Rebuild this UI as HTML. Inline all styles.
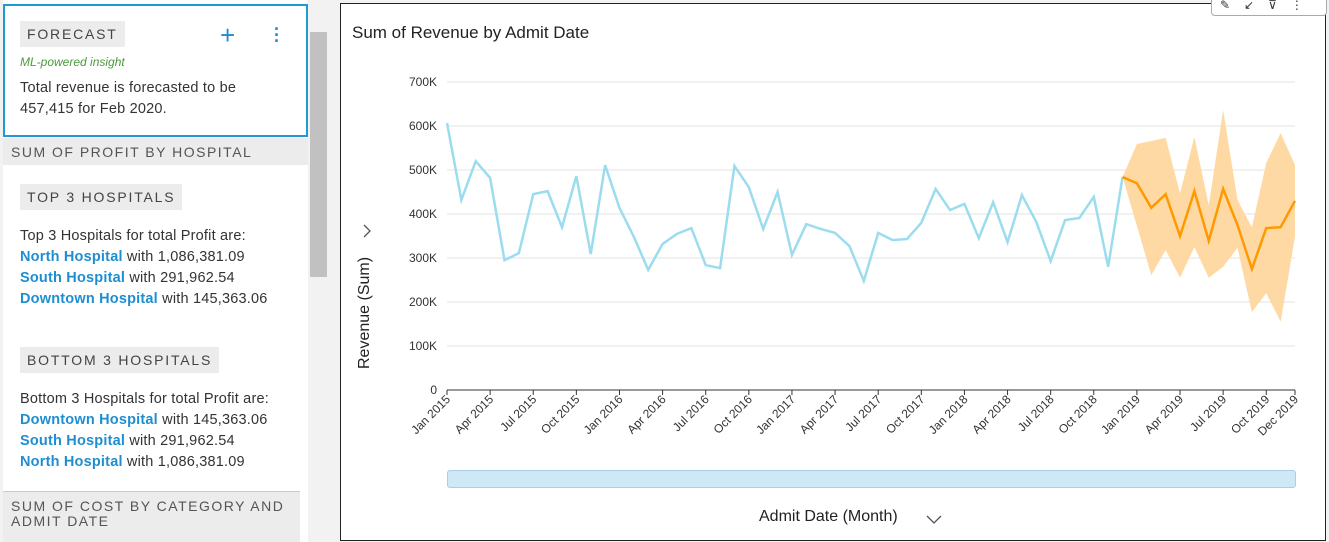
<!DOCTYPE html>
<html><head><meta charset="utf-8"><style>
body{margin:0;width:1329px;height:542px;overflow:hidden;background:#f2f2f2;font-family:"Liberation Sans",sans-serif;position:relative}
.a{position:absolute}
.tag{background:#ececec;color:#444;letter-spacing:1.8px;font-size:14px;padding:5px 7px}
.t{color:#333;font-size:14.5px;line-height:21px;letter-spacing:0.2px}
.l{color:#1f8ed1;font-weight:bold}
.hd{background:#ececec;color:#555;letter-spacing:1.5px;font-size:14px;padding-left:8px}
</style></head><body>
<div class="a" style="left:3px;top:0;width:305px;height:542px;background:#fff"></div>
<div class="a" style="left:3px;top:4px;width:301px;height:129px;border:2px solid #1f9bd3;background:#fff"></div>
<div class="a tag" style="left:20px;top:21px">FORECAST</div>
<div class="a" style="left:220px;top:22px;color:#1f8ed1;font-size:26px;line-height:26px">+</div>
<div class="a" style="left:274px;top:26px;color:#1f8ed1;font-size:18px;line-height:6px;font-weight:bold">·<br>·<br>·</div>
<div class="a" style="left:20px;top:55px;color:#4a9a3a;font-style:italic;font-size:12px">ML-powered insight</div>
<div class="a t" style="left:20px;top:78px">Total revenue is forecasted to be<br>457,415 for Feb 2020.</div>
<div class="a hd" style="left:3px;top:138px;width:297px;height:27px;line-height:29px">SUM OF PROFIT BY HOSPITAL</div>
<div class="a tag" style="left:20px;top:184px">TOP 3 HOSPITALS</div>
<div class="a t" style="left:20px;top:226px">Top 3 Hospitals for total Profit are:<br><span class="l">North Hospital</span> with 1,086,381.09<br><span class="l">South Hospital</span> with 291,962.54<br><span class="l">Downtown Hospital</span> with 145,363.06</div>
<div class="a tag" style="left:20px;top:347px">BOTTOM 3 HOSPITALS</div>
<div class="a t" style="left:20px;top:389px">Bottom 3 Hospitals for total Profit are:<br><span class="l">Downtown Hospital</span> with 145,363.06<br><span class="l">South Hospital</span> with 291,962.54<br><span class="l">North Hospital</span> with 1,086,381.09</div>
<div class="a hd" style="left:3px;top:491px;width:297px;height:51px;line-height:15px;padding-top:7px;box-sizing:border-box;border-top:1px solid #ccc">SUM OF COST BY CATEGORY AND<br>ADMIT DATE</div>
<div class="a" style="left:310px;top:32px;width:17px;height:245px;background:#c1c1c1"></div>
<div class="a" style="left:340px;top:3px;width:984px;height:536px;border:1px solid #222;background:#fff"></div>
<div class="a" style="left:1211px;top:-6px;width:106px;height:20px;border:1px solid #aaa;border-radius:4px;background:#fff;font-size:12px;color:#333;letter-spacing:14px;padding-left:8px;line-height:20px">✎↙⊽⋮</div>
<div class="a" style="left:352px;top:23px;font-size:17px;color:#222">Sum of Revenue by Admit Date</div>
<svg class="a" style="left:0;top:0" width="1329" height="542" id="svg"></svg>
<script>
const yTicks=[0,100,200,300,400,500,600,700];
const months=["Jan","Feb","Mar","Apr","May","Jun","Jul","Aug","Sep","Oct","Nov","Dec"];
const actual=[607,432,520,482,295,311,445,452,370,486,309,511,414,348,273,332,355,368,284,277,509,461,366,450,307,377,366,357,327,248,357,341,343,380,457,409,423,345,427,336,443,382,293,386,391,439,280,484];
const forecast=[484,470,414,445,350,452,339,457,375,275,368,370,430];
const upper=[484,559,566,573,447,575,420,636,432,370,516,584,511];
const lower=[484,373,261,318,255,325,255,280,323,177,220,155,348];
const X=i=>447+i*(1295-447)/59, Y=v=>390-v*0.44;
const s=document.getElementById('svg');const NS='http://www.w3.org/2000/svg';
function mk(t,a,p){const e=document.createElementNS(NS,t);for(const k in a)e.setAttribute(k,a[k]);(p||s).appendChild(e);return e;}
yTicks.forEach(v=>{
 const g=mk('line',{x1:447,x2:1295,y1:Y(v),y2:Y(v),stroke:v?'#e3e3e3':'#333','stroke-width':1});
 
 
 const t=mk('text',{x:437,y:Y(v)+4,'text-anchor':'end','font-size':12,fill:'#333'});t.textContent=v?v+'K':'0';
 
 
});
const idx=[];for(let i=0;i<59;i+=3)idx.push(i);idx.push(59);
idx.forEach(i=>{
 mk('line',{x1:X(i),x2:X(i),y1:390,y2:395,stroke:'#333'});
 const x=X(i)+4,y=400;
 const t=mk('text',{x:x,y:y,'text-anchor':'end','font-size':12,fill:'#333',transform:`rotate(-45 ${x} ${y})`});
 t.textContent=months[i%12]+' '+(2015+Math.floor(i/12));
 
 
});
let band=upper.map((v,k)=>X(47+k)+','+Y(v)).concat(lower.map((v,k)=>X(47+k)+','+Y(v)).reverse()).join(' ');
const b=mk('polygon',{points:band,fill:'#ffd9a3'});


const a=mk('polyline',{points:actual.map((v,i)=>X(i)+','+Y(v)).join(' '),fill:'none',stroke:'#9bdcef','stroke-width':2.5});


const f=mk('polyline',{points:forecast.map((v,k)=>X(47+k)+','+Y(v)).join(' '),fill:'none',stroke:'#ff9900','stroke-width':2.5});


</script>
<div class="a" style="left:305px;top:300px;width:120px;transform:rotate(-90deg);font-size:16px;color:#222;white-space:nowrap">Revenue (Sum)</div>
<svg class="a" style="left:361px;top:223px" width="12" height="16"><polyline points="3,2 9,8 3,14" fill="none" stroke="#555" stroke-width="1.3"/></svg>
<div class="a" style="left:447px;top:470px;width:849px;height:18px;background:#cfe8f6;border:1px solid #a9cfe6;border-radius:3px;box-sizing:border-box"></div>
<div class="a" style="left:759px;top:508px;font-size:16px;color:#222">Admit Date (Month)</div>
<svg class="a" style="left:925px;top:513px" width="18" height="12"><polyline points="2,3 9,10 16,3" fill="none" stroke="#555" stroke-width="1.3"/></svg>
</body></html>
